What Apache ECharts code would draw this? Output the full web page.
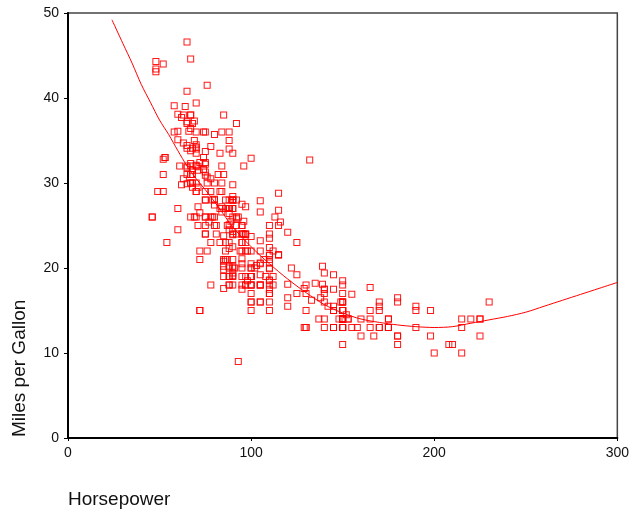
<!DOCTYPE html>
<html>
<head>
<meta charset="utf-8">
<script src="https://cdn.jsdelivr.net/npm/echarts@6/dist/echarts.min.js"></script>
<style>
  html, body { margin: 0; padding: 0; background: #fff; }
  #main { width: 632px; height: 511px; }
</style>
</head>
<body>
<div id="main"></div>
<script>
// horsepower / miles per gallon of each car
const horsepower = [
  130, 165, 150, 150, 140, 198, 220, 215, 225, 190, 170, 160, 150, 225, 95, 95, 97, 85, 88, 46,
  87, 90, 95, 113, 90, 215, 200, 210, 93, 88, 90, 95, 100, 105, 100, 88, 100, 165, 175, 153,
  150, 180, 170, 175, 110, 72, 100, 88, 86, 90, 70, 76, 65, 69, 60, 70, 95, 80, 54, 90,
  86, 165, 175, 150, 153, 150, 208, 155, 160, 190, 97, 150, 130, 140, 150, 112, 76, 87, 69, 86,
  92, 97, 80, 88, 175, 150, 145, 137, 150, 198, 150, 158, 150, 215, 225, 175, 105, 100, 100, 88,
  95, 46, 150, 167, 170, 180, 100, 88, 72, 94, 90, 85, 107, 90, 145, 230, 49, 75, 91, 112,
  150, 110, 122, 180, 95, 100, 100, 67, 80, 65, 75, 100, 110, 105, 140, 150, 150, 140, 150, 83,
  67, 78, 52, 61, 75, 75, 75, 97, 93, 67, 95, 105, 72, 72, 170, 145, 150, 148, 110, 105,
  110, 95, 110, 110, 129, 75, 83, 100, 78, 96, 71, 97, 97, 70, 90, 95, 88, 98, 115, 53,
  86, 81, 92, 79, 83, 140, 150, 120, 152, 100, 105, 81, 90, 52, 60, 70, 53, 100, 78, 110,
  95, 71, 70, 75, 72, 102, 150, 88, 108, 120, 180, 145, 130, 150, 68, 80, 58, 96, 70, 145,
  110, 145, 130, 110, 105, 100, 98, 180, 170, 190, 149, 78, 88, 75, 89, 63, 83, 67, 78, 97,
  110, 110, 48, 66, 52, 70, 60, 110, 140, 139, 105, 95, 85, 88, 100, 90, 105, 85, 110, 120,
  145, 165, 139, 140, 68, 95, 97, 75, 95, 105, 85, 97, 103, 125, 115, 133, 71, 68, 115, 85,
  88, 90, 110, 130, 129, 138, 135, 155, 142, 125, 150, 71, 65, 80, 80, 77, 125, 71, 90, 70,
  70, 65, 69, 90, 115, 115, 90, 76, 60, 70, 65, 90, 88, 90, 90, 78, 90, 75, 92, 75,
  65, 105, 65, 48, 48, 67, 67, 67, 67, 62, 132, 100, 88, 72, 84, 84, 92, 110, 84, 58,
  64, 60, 67, 65, 62, 68, 63, 65, 65, 74, 75, 75, 100, 74, 80, 76, 116, 120, 110, 105,
  88, 85, 88, 88, 88, 85, 84, 90, 92, 74, 68, 68, 63, 70, 88, 75, 70, 67, 67, 67,
  110, 85, 92, 112, 96, 84, 90, 86, 52, 84, 79, 82
];
const mpg = [
  18, 15, 18, 16, 17, 15, 14, 14, 14, 15, 15, 14, 15, 14, 24, 22, 18, 21, 27, 26,
  25, 24, 25, 26, 21, 10, 10, 11, 9, 27, 28, 25, 19, 16, 17, 19, 18, 14, 14, 14,
  14, 12, 13, 13, 18, 22, 19, 18, 23, 28, 30, 30, 31, 35, 27, 26, 24, 25, 23, 20,
  21, 13, 14, 15, 14, 17, 11, 13, 12, 13, 19, 15, 13, 13, 14, 18, 22, 21, 26, 22,
  28, 23, 28, 27, 13, 14, 13, 14, 15, 12, 13, 13, 14, 13, 12, 13, 18, 16, 18, 18,
  23, 26, 11, 12, 13, 12, 18, 20, 21, 22, 18, 19, 21, 26, 15, 16, 29, 24, 20, 19,
  15, 24, 20, 11, 20, 19, 15, 31, 26, 32, 25, 16, 16, 18, 16, 13, 14, 14, 14, 29,
  26, 26, 31, 32, 28, 24, 26, 24, 26, 31, 19, 18, 15, 15, 16, 15, 16, 14, 17, 16,
  15, 18, 21, 20, 13, 29, 23, 20, 23, 24, 25, 24, 18, 29, 19, 23, 23, 22, 25, 33,
  28, 25, 25, 26, 27, 17.5, 16, 15.5, 14.5, 22, 22, 24, 22.5, 29, 24.5, 29, 33, 20, 18, 18.5,
  17.5, 29.5, 32, 28, 26.5, 20, 13, 19, 19, 16.5, 16.5, 13, 13, 13, 31.5, 30, 36, 25.5, 33.5, 17.5,
  17, 15.5, 15, 17.5, 20.5, 19, 18.5, 16, 15.5, 15.5, 16, 29, 24.5, 26, 25.5, 30.5, 33.5, 30, 30.5, 22,
  21.5, 21.5, 43.1, 36.1, 32.8, 39.4, 36.1, 19.9, 19.4, 20.2, 19.2, 20.5, 20.2, 25.1, 20.5, 19.4, 20.6, 20.8, 18.6, 18.1,
  19.2, 17.7, 18.1, 17.5, 30, 27.5, 27.2, 30.9, 21.1, 23.2, 23.8, 23.9, 20.3, 17, 21.6, 16.2, 31.5, 29.5, 21.5, 19.8,
  22.3, 20.2, 20.6, 17, 17.6, 16.5, 18.2, 16.9, 15.5, 19.2, 18.5, 31.9, 34.1, 35.7, 27.4, 25.4, 23, 27.2, 23.9, 34.2,
  34.5, 31.8, 37.3, 28.4, 28.8, 26.8, 33.5, 41.5, 38.1, 32.1, 37.2, 28, 26.4, 24.3, 19.1, 34.3, 29.8, 31.3, 37, 32.2,
  46.6, 27.9, 40.8, 44.3, 43.4, 36.4, 30, 44.6, 33.8, 29.8, 32.7, 23.7, 35, 32.4, 27.2, 26.6, 25.8, 23.5, 30, 39.1,
  39, 35.1, 32.3, 37, 37.7, 34.1, 34.7, 34.4, 29.9, 33, 33.7, 32.4, 32.9, 31.6, 28.1, 30.7, 25.4, 24.2, 22.4, 26.6,
  20.2, 17.6, 28, 27, 34, 31, 29, 27, 24, 36, 37, 31, 38, 36, 36, 36, 34, 38, 32, 38,
  25, 38, 26, 22, 32, 36, 27, 27, 44, 32, 28, 31
];

// fitted curve
const fitHp = [24, 30, 35, 40, 45, 50, 55, 60, 65, 70, 75, 80, 85, 90, 100, 110, 120, 130, 140, 150,
  160, 170, 180, 190, 200, 210, 220, 230, 240, 250, 260, 270, 280, 290, 300];
const fitMpg = [49.2, 46.4, 44.1, 41.6, 39.5, 37.4, 35.7, 33.8, 32.0, 30.5, 29.2, 27.8, 26.3, 24.8, 22.5, 20.5, 18.7, 17.1, 15.7, 14.7,
  14.0, 13.6, 13.3, 13.1, 13.0, 13.1, 13.5, 13.9, 14.3, 14.8, 15.5, 16.2, 16.9, 17.6, 18.3];

const xTicks = [0, 100, 200, 300];
const yTicks = [0, 10, 20, 30, 40, 50];

const red = '#ff0000';
const font = 'Liberation Sans, Arial, sans-serif';
// open square: outer box minus inner box (opposite winding leaves a hole)
const hollowSquare = 'path://M0,0L7,0L7,7L0,7ZM1,1L1,6L6,6L6,1Z';

const chart = echarts.init(document.getElementById('main'), null, { renderer: 'canvas' });

const points = horsepower.map((h, i) => [h, mpg[i]]);
const curve = fitHp.map((h, i) => [h, fitMpg[i]]);

chart.setOption({
  animation: false,
  backgroundColor: '#fff',
  grid: {
    left: 68,
    right: 11,
    top: 13,
    bottom: 73,
    show: true,
    borderColor: '#444',
    borderWidth: 1.5
  },
  xAxis: {
    type: 'value',
    min: xTicks[0],
    max: xTicks[xTicks.length - 1],
    interval: 100,
    splitLine: { show: false },
    axisLine: { lineStyle: { color: '#000', width: 2 } },
    axisTick: { length: 3, lineStyle: { color: '#000' } },
    axisLabel: { color: '#111', fontSize: 14, fontFamily: font, margin: 8 }
  },
  yAxis: {
    type: 'value',
    min: yTicks[0],
    max: yTicks[yTicks.length - 1],
    interval: 10,
    splitLine: { show: false },
    axisLine: { show: true, lineStyle: { color: '#000', width: 2 } },
    axisTick: { show: true, length: 4, lineStyle: { color: '#000' } },
    axisLabel: { color: '#111', fontSize: 14, fontFamily: font, margin: 9 }
  },
  graphic: [
    {
      type: 'text',
      left: 68,
      top: 490,
      style: { text: 'Horsepower', font: '19px ' + font, fill: '#111' }
    },
    {
      type: 'text',
      x: 10,
      y: 437,
      rotation: Math.PI / 2,
      style: { text: 'Miles per Gallon', font: '19px ' + font, fill: '#111', textVerticalAlign: 'top' }
    }
  ],
  series: [
    {
      type: 'scatter',
      data: points,
      symbol: hollowSquare,
      symbolSize: 7,
      itemStyle: { color: red, opacity: 0.9 },
      z: 2
    },
    {
      type: 'line',
      data: curve,
      smooth: 0.3,
      showSymbol: false,
      lineStyle: { color: red, width: 1 },
      z: 3
    }
  ]
});
</script>
</body>
</html>
